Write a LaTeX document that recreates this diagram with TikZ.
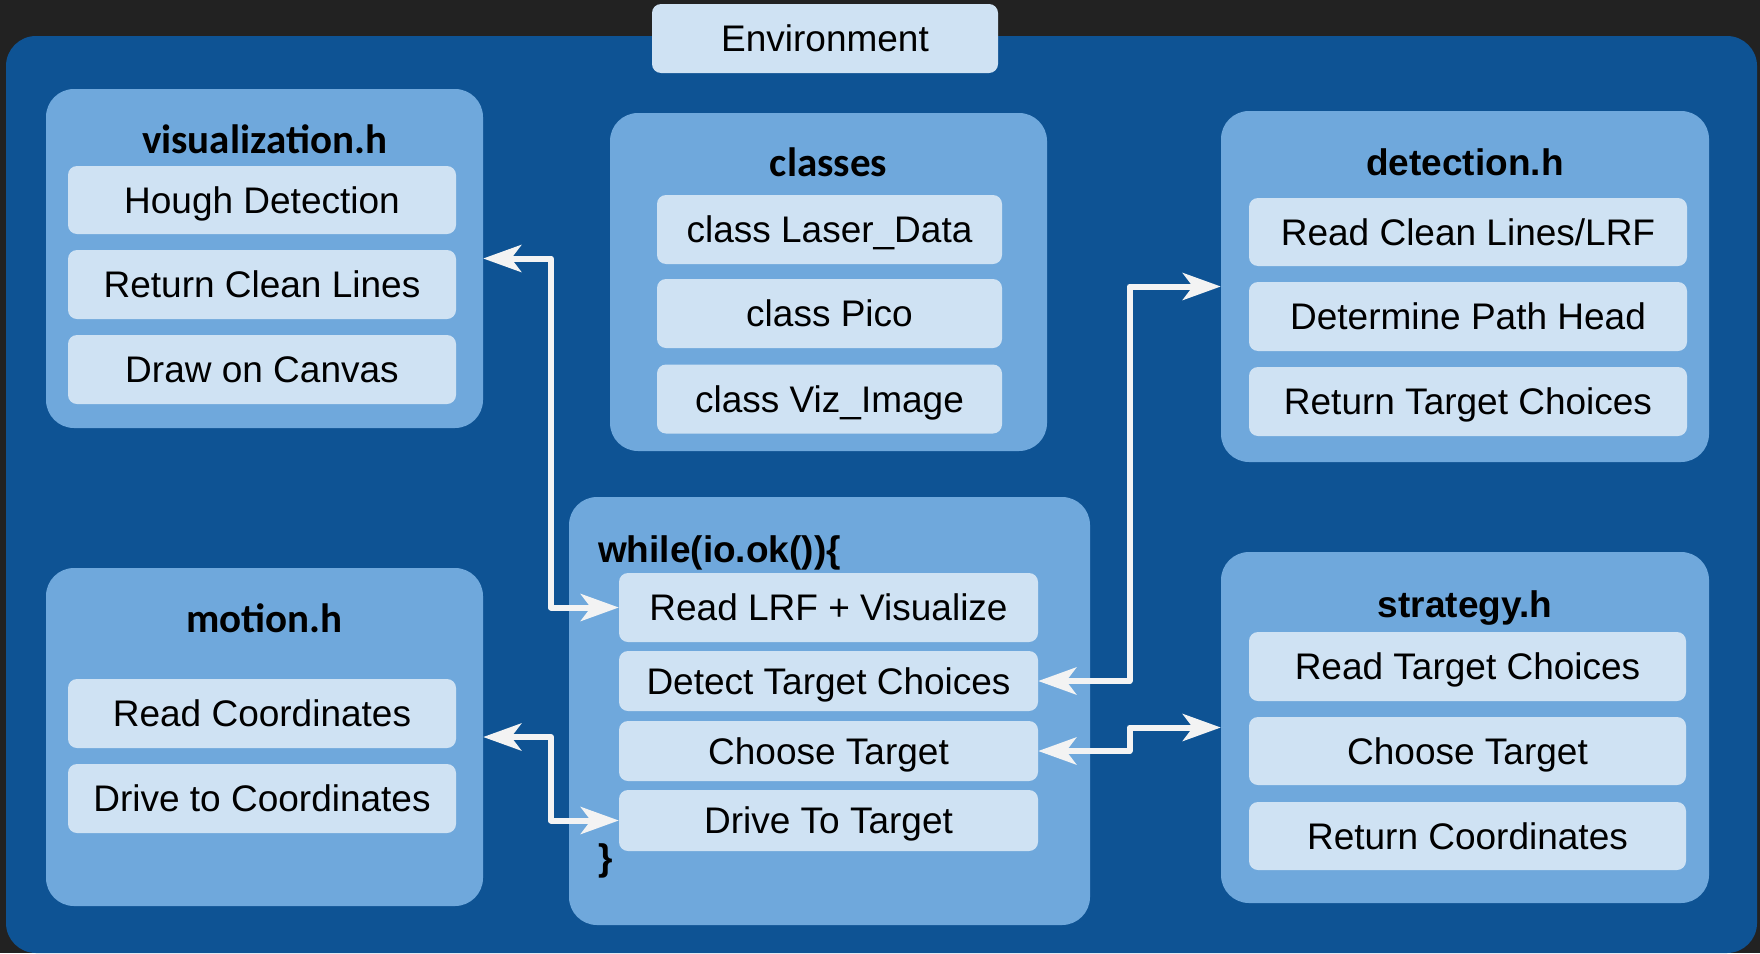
\documentclass[tikz,border=0pt]{standalone}
\usepackage{fontspec}
\setmainfont{Liberation Sans}
\newfontfamily\carl{Carlito}
\usetikzlibrary{arrows.meta,calc}
\definecolor{bgdark}{HTML}{222222}
\definecolor{envblue}{HTML}{0E5394}
\definecolor{modblue}{HTML}{6FA8DC}
\definecolor{itemblue}{HTML}{CFE2F3}
\definecolor{arrwhite}{HTML}{F3F3F3}
\begin{document}
\begin{tikzpicture}[x=1pt,y=-1pt,
  module/.style={fill=modblue, rounded corners=28pt, inner sep=0pt},
  item/.style={fill=itemblue, rounded corners=9pt, inner sep=0pt,
    text height=26.5pt, text depth=0pt, font=\fontsize{37pt}{44pt}\selectfont},
  ttlA/.style={anchor=base, inner sep=0pt, font=\carl\bfseries\fontsize{41pt}{48pt}\selectfont},
  ttlB/.style={anchor=base, inner sep=0pt, font=\bfseries\fontsize{37pt}{44pt}\selectfont},
  link/.style={draw=arrwhite, line width=6pt, line join=round,
    {Stealth[length=38pt,width=27pt,inset=10pt]}-{Stealth[length=38pt,width=27pt,inset=10pt]}}
]
\useasboundingbox (0,0) rectangle (1760,953);
\fill[bgdark] (0,0) rectangle (1760,953);
\fill[envblue, rounded corners=30pt] (6,36) rectangle (1757,953);

% Environment tab
\node[item, minimum width=346pt, minimum height=69pt] (env) at (825,38.5) {Environment};

% modules
\node[module, minimum width=437pt, minimum height=339pt] (viz) at (264.5,258.5) {};
\node[module, minimum width=437pt, minimum height=338pt] (cls) at (828.5,282) {};
\node[module, minimum width=488pt, minimum height=351pt] (det) at (1465,286.5) {};
\node[module, minimum width=437pt, minimum height=338pt] (mot) at (264.5,737) {};
\node[module, minimum width=521pt, minimum height=428pt] (loop) at (829.5,711) {};
\node[module, minimum width=488pt, minimum height=351pt] (str) at (1465,727.5) {};

% titles
\node[ttlA] (vizT) at (264.5,153) {visualization.h};
\node[ttlA] (clsT) at (828.5,176) {classes};
\node[ttlB] (detT) at (1465,175) {detection.h};
\node[ttlA] (motT) at (264.5,632) {motion.h};
\node[ttlB] (strT) at (1465,617) {strategy.h};
\node[ttlB, anchor=base west] (loopT) at (598,562) {while(io.ok())\{};
\node[ttlB, anchor=base west] (loopE) at (598,870) {\}};

% visualization items
\node[item, minimum width=388pt, minimum height=68pt] (v1) at (262,200) {Hough Detection};
\node[item, minimum width=388pt, minimum height=69pt] (v2) at (262,284.5) {Return Clean Lines};
\node[item, minimum width=388pt, minimum height=69pt] (v3) at (262,369.5) {Draw on Canvas};

% classes items
\node[item, minimum width=345pt, minimum height=69pt] (c1) at (829.5,229.5) {class Laser\_Data};
\node[item, minimum width=345pt, minimum height=69pt] (c2) at (829.5,313.5) {class Pico};
\node[item, minimum width=345pt, minimum height=69pt] (c3) at (829.5,399) {class Viz\_Image};

% detection items
\node[item, minimum width=438pt, minimum height=68pt] (d1) at (1468,232) {Read Clean Lines/LRF};
\node[item, minimum width=438pt, minimum height=69pt] (d2) at (1468,316.5) {Determine Path Head};
\node[item, minimum width=438pt, minimum height=69pt] (d3) at (1468,401.5) {Return Target Choices};

% motion items
\node[item, minimum width=388pt, minimum height=69pt] (m1) at (262,713.5) {Read Coordinates};
\node[item, minimum width=388pt, minimum height=69pt] (m2) at (262,798.5) {Drive to Coordinates};

% loop items
\node[item, minimum width=419pt, minimum height=69pt] (l1) at (828.5,607.5) {Read LRF + Visualize};
\node[item, minimum width=419pt, minimum height=60pt] (l2) at (828.5,681) {Detect Target Choices};
\node[item, minimum width=419pt, minimum height=60pt] (l3) at (828.5,751) {Choose Target};
\node[item, minimum width=419pt, minimum height=61pt] (l4) at (828.5,820.5) {Drive To Target};

% strategy items
\node[item, minimum width=437pt, minimum height=69pt] (s1) at (1467.5,666.5) {Read Target Choices};
\node[item, minimum width=437pt, minimum height=68pt] (s2) at (1467.5,751) {Choose Target};
\node[item, minimum width=437pt, minimum height=68pt] (s3) at (1467.5,836) {Return Coordinates};

% connectors
\draw[link] (viz.east) -| ($(viz.east)!.5!(l1.west)$) |- (l1.west);
\draw[link] (mot.east) -| ($(mot.east)!.5!(l4.west)$) |- (l4.west);
\draw[link] (l2.east) -| ($(l2.east)!.5!(det.west)$) |- (det.west);
\draw[link] (l3.east) -| ($(l3.east)!.5!(str.west)$) |- (str.west);
\end{tikzpicture}
\end{document}
